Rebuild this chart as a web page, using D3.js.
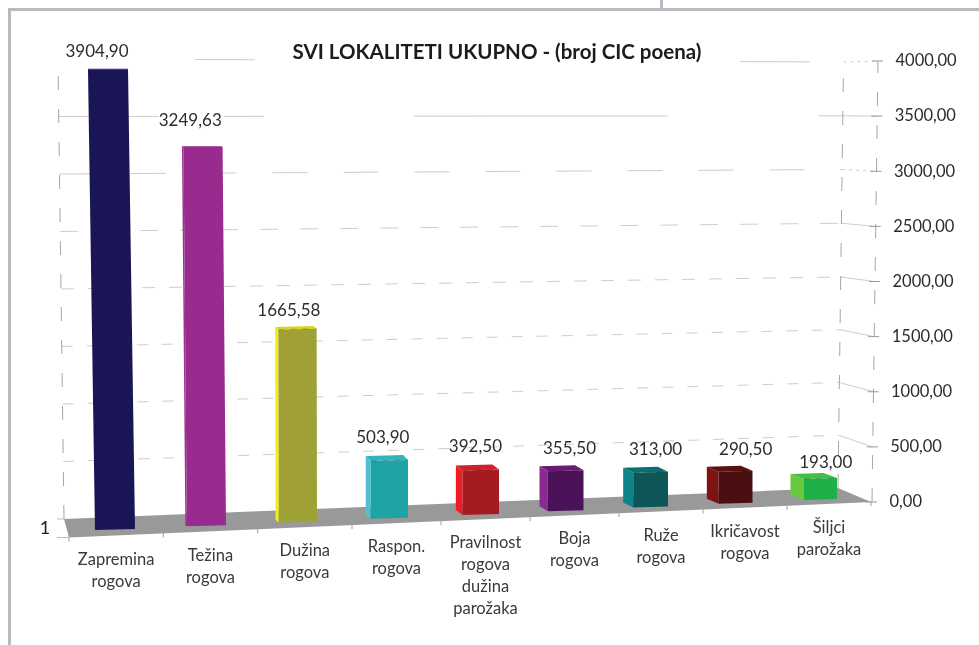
<!DOCTYPE html>
<html>
<head>
<meta charset="utf-8">
<script src="https://cdn.jsdelivr.net/npm/d3@7"></script>
<style>
  html, body { margin: 0; padding: 0; background: #fff; }
  svg { display: block; filter: blur(0.6px); }
  text { font-family: Lato, "Open Sans", sans-serif; }
</style>
</head>
<body>
<div class="chart"></div>
<script>
var svgWidth = 979;
var svgHeight = 645;

// data
var categories = [
  ["Zapremina", "rogova"],
  ["Težina", "rogova"],
  ["Dužina", "rogova"],
  ["Raspon.", "rogova"],
  ["Pravilnost", "rogova", "dužina", "parožaka"],
  ["Boja", "rogova"],
  ["Ruže", "rogova"],
  ["Ikričavost", "rogova"],
  ["Šiljci", "parožaka"]
];
var values = [3904.90, 3249.63, 1665.58, 503.90, 392.50, 355.50, 313.00, 290.50, 193.00];
var axisTicks = [0, 500, 1000, 1500, 2000, 2500, 3000, 3500, 4000];
var chartTitle = "SVI LOKALITETI UKUPNO - (broj CIC poena)";
var seriesLabel = "1";

// colours per bar: front, side, top
var frontColors = ["#1a1555", "#9a2b8e", "#9fa136", "#1fa3a5", "#a51b20", "#4b1259", "#0e5558", "#4a0f10", "#1fb04a"];
var sideColors = ["#1d1a6e", "#a0308f", "#f2ee12", "#50c0d3", "#ee1c25", "#8a2b91", "#0e8388", "#7f1213", "#68c93d"];
var topColors = ["#1a1555", "#9a2b8e", "#d8d522", "#30b5bd", "#d0202a", "#6a1a76", "#0b7071", "#5a0f10", "#3fbf44"];

// hand placed value labels, relative to the bar top
var labelDx = [-11, -12, -7, -4, -2, 8, 10, 16, 12];
var labelDy = [18, 26, 17, 19, 19, 18, 19, 18, 12];

// dash pattern of each back wall line, from 0 up to 4000
var gridDash = ["none", "11 14", "11 14", "11 14", "13 14", "18 22", "35 36", "100 65 40 150 254 151 30", "0 137 60 485 70 1000"];

var fmt = d3.formatLocale({ decimal: ",", thousands: "", grouping: [3], currency: ["", ""] }).format(".2f");

var svg = d3.select(".chart")
  .append("svg")
  .attr("width", svgWidth)
  .attr("height", svgHeight);

// page frame
var frame = svg.append("g").attr("fill", "#b9bac1");
frame.append("rect").attr("x", 8).attr("y", 8).attr("width", 971).attr("height", 3);
frame.append("rect").attr("x", 8).attr("y", 8).attr("width", 3).attr("height", 637);
frame.append("rect").attr("x", 660).attr("y", 0).attr("width", 3).attr("height", 9);

// fake 3D: each wall edge gets its own scales
var yBackLeft = d3.scaleLinear().domain([0, 4000]).range([519, 59]);
var yBackRight = d3.scaleLinear().domain([0, 2000, 4000]).range([488, 277, 62]);
var yAxisRight = d3.scaleLinear().domain([0, 4000]).range([502, 61]);
var xBackLeft = d3.scaleLinear().domain([0, 4000]).range([64, 58]);
var xBackRight = d3.scaleLinear().domain([0, 4000]).range([838, 843.5]);
var xAxisRight = d3.scaleLinear().domain([0, 4000]).range([872, 878]);

var xBoundary = d3.scaleLinear().domain([0, 3, 6, 9]).range([69, 352, 619, 871]);
var frontEdge = d3.scaleLinear().domain([69, 871]).range([537.5, 502]);

var xBarRight = d3.scaleLinear().domain([0, 4, 8]).range([135, 499, 837]);
var yBarBase = d3.scaleLinear().domain([0, 8]).range([530, 500]);
var barWidth = d3.scaleLinear().domain([0, 8]).range([40, 33]);
var sideWidth = d3.scaleLinear().domain([0, 1, 8]).range([0, 1.5, 13.5]);
var sideRise = d3.scaleLinear().domain([1, 3]).range([0.5, 5]).clamp(true);
var lean = d3.scaleLinear().domain([0, 1, 2, 3]).range([0.0152, 0.009, 0.002, 0]).clamp(true);
var pxPerUnit = d3.scaleLinear().domain([0, 8]).range([0.118, 0.109]);

function barGeom(d, i) {
  var h = d * pxPerUnit(i);
  var right = xBarRight(i);
  var left = right - barWidth(i);
  var base = yBarBase(i);
  var shift = lean(i) * h;
  var sw = sideWidth(i);
  var sr = sideRise(i);
  return {
    bl: [left, base],
    br: [right, base - 1],
    tr: [right - shift, base - h - (i > 1 ? 1 : 0)],
    tl: [left - shift, base - h],
    sw: sw,
    sr: sr
  };
}

function poly(points) {
  return points.map(p => p.join(",")).join(" ");
}

// walls
var grid = svg.append("g").attr("fill", "none").attr("stroke", "#d2ccc6");

grid.selectAll("line.back")
  .data(axisTicks.slice(1))
  .enter()
  .append("line")
  .attr("class", "back")
  .attr("x1", d => xBackLeft(d))
  .attr("y1", d => yBackLeft(d))
  .attr("x2", d => xBackRight(d))
  .attr("y2", d => yBackRight(d))
  .attr("stroke-dasharray", (d, i) => gridDash[i + 1]);

grid.selectAll("line.side")
  .data(axisTicks.slice(1))
  .enter()
  .append("line")
  .attr("class", "side")
  .attr("x1", d => xBackRight(d))
  .attr("y1", d => yBackRight(d))
  .attr("x2", d => xAxisRight(d))
  .attr("y2", d => yAxisRight(d))
  .attr("stroke-dasharray", d => (d === 4000 || d === 3000) ? "3 4" : null);

var wallEdges = [
  [xBackLeft, yBackLeft],
  [xBackRight, yBackRight],
  [xAxisRight, yAxisRight]
];
grid.selectAll("line.edge")
  .data(wallEdges)
  .enter()
  .append("line")
  .attr("class", "edge")
  .attr("x1", d => d[0](0))
  .attr("y1", d => d[1](0))
  .attr("x2", d => d[0](4000))
  .attr("y2", d => d[1](4000))
  .attr("stroke", "#a8a4a0")
  .attr("stroke-dasharray", "14 19");

// floor
svg.append("polygon")
  .attr("points", poly([
    [xBackLeft(0), yBackLeft(0)],
    [xBackRight(0), yBackRight(0)],
    [xBoundary(9), frontEdge(xBoundary(9))],
    [xBoundary(0), frontEdge(xBoundary(0))]
  ]))
  .attr("fill", "#999999");

// category ticks under the floor
svg.append("g").selectAll("line")
  .data(d3.range(10))
  .enter()
  .append("line")
  .attr("x1", d => xBoundary(d))
  .attr("y1", d => frontEdge(xBoundary(d)))
  .attr("x2", d => xBoundary(d))
  .attr("y2", d => frontEdge(xBoundary(d)) + 4)
  .attr("stroke", "#a09c98");

svg.append("g").attr("stroke", "#bbb").selectAll("line")
  .data([[yBackLeft(0), xBackLeft(0)], [frontEdge(69), 69]])
  .enter()
  .append("line")
  .attr("x1", 57)
  .attr("x2", d => d[1])
  .attr("y1", d => d[0])
  .attr("y2", d => d[0]);

// bars
var bars = svg.append("g").selectAll("g")
  .data(values)
  .enter()
  .append("g");

bars.append("polygon")
  .attr("points", function (d, i) {
    var g = barGeom(d, i);
    return poly([g.bl, g.tl, [g.tl[0] - g.sw, g.tl[1] - g.sr], [g.bl[0] - g.sw, g.bl[1] - g.sr]]);
  })
  .attr("fill", (d, i) => sideColors[i]);

bars.append("polygon")
  .attr("points", function (d, i) {
    var g = barGeom(d, i);
    return poly([g.tl, g.tr, [g.tr[0] - g.sw, g.tr[1] - g.sr], [g.tl[0] - g.sw, g.tl[1] - g.sr]]);
  })
  .attr("fill", (d, i) => topColors[i]);

bars.append("polygon")
  .attr("points", function (d, i) {
    var g = barGeom(d, i);
    return poly([g.bl, g.br, g.tr, g.tl]);
  })
  .attr("fill", (d, i) => frontColors[i]);

// little dashes on the front top edge
bars.filter((d, i) => i > 1).append("line")
  .attr("x1", d => barGeom(d, values.indexOf(d)).tl[0])
  .attr("y1", d => barGeom(d, values.indexOf(d)).tl[1])
  .attr("x2", d => barGeom(d, values.indexOf(d)).tr[0])
  .attr("y2", d => barGeom(d, values.indexOf(d)).tr[1])
  .attr("stroke", "#000")
  .attr("stroke-opacity", 0.2)
  .attr("stroke-dasharray", "6 6");

// value labels
svg.append("g").selectAll("text")
  .data(values)
  .enter()
  .append("text")
  .attr("x", function (d, i) {
    var g = barGeom(d, i);
    return (g.tl[0] + g.tr[0]) / 2 - g.sw / 2 + labelDx[i];
  })
  .attr("y", function (d, i) {
    var g = barGeom(d, i);
    return g.tl[1] - g.sr - labelDy[i];
  })
  .attr("dy", "0.35em")
  .attr("text-anchor", "middle")
  .attr("font-size", 17)
  .attr("fill", "#2c2c2c")
  .text(d => fmt(d));

// category labels
var catLabels = svg.append("g").selectAll("text")
  .data(categories)
  .enter()
  .append("text")
  .attr("text-anchor", "middle")
  .attr("font-size", 16.5)
  .attr("fill", "#3a3a3a");

catLabels.selectAll("tspan")
  .data(function (d, i) {
    var cx = (xBoundary(i) + xBoundary(i + 1)) / 2;
    return d.map((t, n) => ({ t: t, n: n, cx: cx }));
  })
  .enter()
  .append("tspan")
  .attr("x", d => d.cx)
  .attr("y", d => frontEdge(d.cx) + 23.5 + d.n * 22)
  .attr("dy", "0.35em")
  .text(d => d.t);

// right value axis, moved tick by tick along the slanted edge
var rightAxis = d3.axisRight(yAxisRight)
  .tickValues(axisTicks)
  .tickFormat(fmt)
  .tickSize(5);

var axisGroup = svg.append("g").call(rightAxis);
axisGroup.select(".domain").remove();
axisGroup.selectAll(".tick")
  .attr("transform", d => `translate(${xAxisRight(d)}, ${yAxisRight(d)})`);
axisGroup.selectAll(".tick line")
  .attr("x1", -6)
  .attr("stroke", "#9c9896");
axisGroup.selectAll(".tick text")
  .attr("x", 17.5)
  .attr("font-family", "Lato")
  .attr("font-size", 16.5)
  .attr("fill", "#2c2c2c");

// title and series name
svg.append("text")
  .attr("x", 497)
  .attr("y", 52)
  .attr("dy", "0.35em")
  .attr("text-anchor", "middle")
  .attr("font-size", 20.5)
  .attr("font-weight", "bold")
  .attr("fill", "#1c1c1c")
  .text(chartTitle);

svg.append("text")
  .attr("x", 45)
  .attr("y", 528)
  .attr("dy", "0.35em")
  .attr("text-anchor", "middle")
  .attr("font-size", 18)
  .attr("fill", "#1c1c1c")
  .text(seriesLabel);
</script>
</body>
</html>
